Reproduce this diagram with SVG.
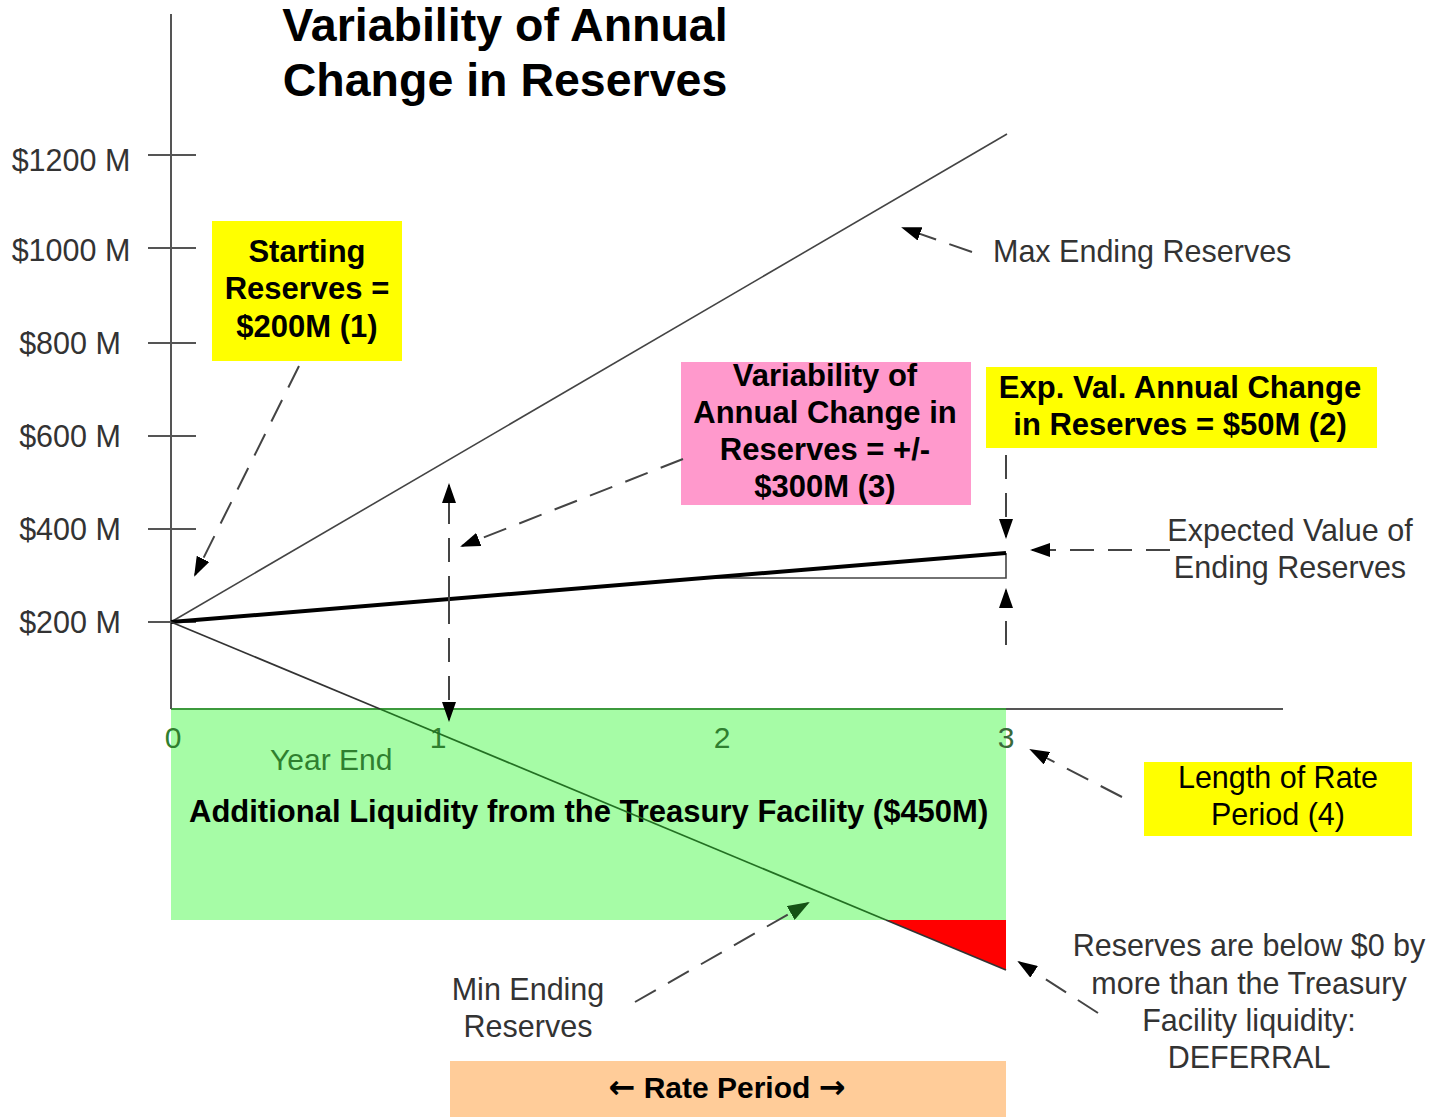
<svg xmlns="http://www.w3.org/2000/svg" width="1432" height="1117" viewBox="0 0 1432 1117">
<defs>
<style>
text{font-family:"Liberation Sans",Arial,sans-serif;}
.b{font-weight:bold;fill:#000;font-size:31px;}
.t{font-weight:bold;fill:#000;font-size:46.5px;text-anchor:middle;}
.n{fill:#333;font-size:30.5px;}
.ax{fill:#333;font-size:30.5px;text-anchor:middle;}
.g{fill:#2f7f2f;font-size:30px;}
.c{text-anchor:middle;}
.dash{stroke:#444;stroke-width:2;stroke-dasharray:24,14;fill:none;}
.tick{stroke:#555;stroke-width:2;}
</style>
<marker id="ah" markerWidth="20" markerHeight="14" refX="18" refY="7" orient="auto" markerUnits="userSpaceOnUse">
<path d="M0,0 L20,7 L0,14 Z" fill="#000"/>
</marker>
<marker id="ahg" markerWidth="22" markerHeight="16" refX="20" refY="8" orient="auto" markerUnits="userSpaceOnUse">
<path d="M0,0 L22,8 L0,16 Z" fill="#145214"/>
</marker>
</defs>
<rect width="1432" height="1117" fill="#fff"/>

<g id="title">
<text class="t" x="505" y="41">Variability of Annual</text>
<text class="t" x="505" y="96">Change in Reserves</text>
</g>

<g id="liquidity-area">
<rect x="171" y="709" width="835" height="211" fill="#a6fca6"/>
<line x1="171" y1="709" x2="1006" y2="709" stroke="#3c9a3c" stroke-width="2"/>
<text class="b" x="189" y="822">Additional Liquidity from the Treasury Facility ($450M)</text>
</g>

<g id="deferral-area">
<polygon points="886,920 1006,920 1006,970" fill="#ff0000"/>
</g>

<g id="axes">
<line x1="171" y1="14" x2="171" y2="709" stroke="#555" stroke-width="2"/>
<line x1="1006" y1="709" x2="1283" y2="709" stroke="#555" stroke-width="2"/>
<line class="tick" x1="148" y1="155" x2="196" y2="155"/>
<line class="tick" x1="148" y1="248" x2="196" y2="248"/>
<line class="tick" x1="148" y1="343" x2="196" y2="343"/>
<line class="tick" x1="148" y1="436" x2="196" y2="436"/>
<line class="tick" x1="148" y1="529" x2="196" y2="529"/>
<line class="tick" x1="148" y1="622" x2="196" y2="622"/>
<text class="ax" x="71" y="171">$1200 M</text>
<text class="ax" x="71" y="261">$1000 M</text>
<text class="ax" x="70" y="354">$800 M</text>
<text class="ax" x="70" y="447">$600 M</text>
<text class="ax" x="70" y="540">$400 M</text>
<text class="ax" x="70" y="633">$200 M</text>
<text class="g c" x="173" y="748">0</text>
<text class="g c" x="438" y="748">1</text>
<text class="g c" x="722" y="748">2</text>
<text class="c" x="1006" y="748" fill="#3a6a3a" font-size="30">3</text>
<text class="g" x="270" y="770">Year End</text>
</g>

<g id="reserve-lines">
<line x1="171" y1="622" x2="1007" y2="134" stroke="#444" stroke-width="1.6"/>
<polyline points="711,578 1006,578 1006,553" fill="none" stroke="#444" stroke-width="1.6"/>
<line x1="171" y1="622" x2="1006" y2="553" stroke="#000" stroke-width="4"/>
<line x1="171" y1="622" x2="380" y2="709" stroke="#333" stroke-width="1.8"/>
<line x1="380" y1="709" x2="886" y2="920" stroke="#237023" stroke-width="1.8"/>
<line x1="886" y1="920" x2="1006" y2="970" stroke="#333" stroke-width="1.8"/>
</g>

<g id="starting-reserves">
<rect x="212" y="221" width="190" height="140" fill="#ffff00"/>
<text class="b c" x="307" y="262">Starting</text>
<text class="b c" x="307" y="299">Reserves =</text>
<text class="b c" x="307" y="337">$200M (1)</text>
</g>

<g id="variability">
<rect x="681" y="362" width="290" height="143" fill="#ff99cc"/>
<text class="b c" x="825" y="386">Variability of</text>
<text class="b c" x="825" y="423">Annual Change in</text>
<text class="b c" x="825" y="460">Reserves = +/-</text>
<text class="b c" x="825" y="497">$300M (3)</text>
</g>

<g id="exp-val">
<rect x="986" y="367" width="391" height="81" fill="#ffff00"/>
<text class="b c" x="1180" y="398">Exp. Val. Annual Change</text>
<text class="b c" x="1180" y="435">in Reserves = $50M (2)</text>
</g>

<g id="length-rate-period">
<rect x="1144" y="762" width="268" height="74" fill="#ffff00"/>
<text class="c" x="1278" y="788" fill="#000" font-size="30.5">Length of Rate</text>
<text class="c" x="1278" y="825" fill="#000" font-size="30.5">Period (4)</text>
</g>

<g id="rate-period">
<rect x="450" y="1061" width="556" height="56" fill="#ffcc99"/>
<text class="c" x="727" y="1098" font-size="30" font-weight="bold"><tspan font-family="'DejaVu Sans',sans-serif" font-size="32">←</tspan> Rate Period <tspan font-family="'DejaVu Sans',sans-serif" font-size="32">→</tspan></text>
</g>

<g id="max-label"><text class="n" x="993" y="262">Max Ending Reserves</text></g>
<g id="expected-label">
<text class="n c" x="1290" y="541">Expected Value of</text>
<text class="n c" x="1290" y="578">Ending Reserves</text>
</g>
<g id="min-label">
<text class="n c" x="528" y="1000">Min Ending</text>
<text class="n c" x="528" y="1037">Reserves</text>
</g>
<g id="deferral-label">
<text class="n c" x="1249" y="956">Reserves are below $0 by</text>
<text class="n c" x="1249" y="994">more than the Treasury</text>
<text class="n c" x="1249" y="1031">Facility liquidity:</text>
<text class="n c" x="1249" y="1068">DEFERRAL</text>
</g>

<g id="connectors">
<line class="dash" x1="299" y1="366" x2="195" y2="575" marker-end="url(#ah)"/>
<line class="dash" x1="683" y1="459" x2="462" y2="546" marker-end="url(#ah)"/>
<line class="dash" x1="449" y1="600" x2="449" y2="485" marker-end="url(#ah)"/>
<line class="dash" x1="449" y1="600" x2="449" y2="720" marker-end="url(#ah)"/>
<line class="dash" x1="972" y1="252" x2="903" y2="228" marker-end="url(#ah)" stroke-dasharray="30,16"/>
<line class="dash" x1="1006" y1="455" x2="1006" y2="537" marker-end="url(#ah)"/>
<line class="dash" x1="1006" y1="645" x2="1006" y2="590" marker-end="url(#ah)"/>
<line class="dash" x1="1170" y1="550" x2="1032" y2="550" marker-end="url(#ah)"/>
<line class="dash" x1="1122" y1="797" x2="1031" y2="750" marker-end="url(#ah)"/>
<line class="dash" x1="1098" y1="1013" x2="1019" y2="962" marker-end="url(#ah)"/>
<line class="dash" x1="635" y1="1002" x2="808" y2="903" marker-end="url(#ahg)"/>
</g>
</svg>
